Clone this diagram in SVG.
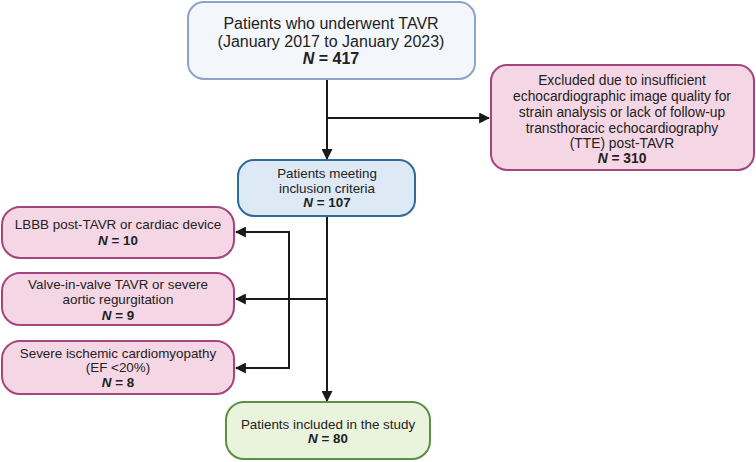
<svg xmlns="http://www.w3.org/2000/svg" width="756" height="462" viewBox="0 0 756 462">
<style>
text{font-family:"Liberation Sans",Arial,sans-serif;fill:#222;text-anchor:middle}
.t16{font-size:16px}
.t14{font-size:13.8px}
.t13{font-size:13.4px}
.b{font-weight:bold}
.i{font-style:italic}
.box{stroke-width:2}
.top{fill:#f3f6fb;stroke:#8ea3c8}
.mid{fill:#dde9f5;stroke:#2f6a9c}
.pink{fill:#f5d6e5;stroke:#a3467d}
.green{fill:#eaf3dc;stroke:#5c8f3f}
.ln{fill:none;stroke:#1a1a1a;stroke-width:2}
</style>
<defs>
<marker id="ah" viewBox="0 0 10 10" refX="9" refY="5" markerWidth="5.5" markerHeight="5.5" orient="auto" markerUnits="strokeWidth">
<path d="M0,0 L10,5 L0,10 z" fill="#1a1a1a"/>
</marker>
</defs>
<g id="connectors">
<path class="ln" d="M327,80 V159" marker-end="url(#ah)"/>
<path class="ln" d="M327,118 H489" marker-end="url(#ah)"/>
<path class="ln" d="M327,216 V401" marker-end="url(#ah)"/>
<path class="ln" d="M327,299 H236" marker-end="url(#ah)"/>
<path class="ln" d="M289,232 V368"/>
<path class="ln" d="M290,232 H236" marker-end="url(#ah)"/>
<path class="ln" d="M290,368 H236" marker-end="url(#ah)"/>
</g>
<g id="n-tavr">
<rect class="box top" x="188" y="2" width="287" height="77" rx="16"/>
<text class="t16" x="331" y="29">Patients who underwent TAVR</text>
<text class="t16" x="331" y="47">(January 2017 to January 2023)</text>
<text class="t16 b" x="331" y="64"><tspan class="i">N</tspan> = 417</text>
</g>
<g id="n-excluded">
<rect class="box pink" x="491" y="65" width="263" height="105" rx="16"/>
<text class="t14" x="622" y="85">Excluded due to insufficient</text>
<text class="t14" x="622" y="101">echocardiographic image quality for</text>
<text class="t14" x="622" y="117">strain analysis or lack of follow-up</text>
<text class="t14" x="622" y="133">transthoracic echocardiography</text>
<text class="t14" x="622" y="148">(TTE) post-TAVR</text>
<text class="t14 b" x="622" y="163"><tspan class="i">N</tspan> = 310</text>
</g>
<g id="n-inclusion">
<rect class="box mid" x="238" y="160" width="177" height="56" rx="16"/>
<text class="t13" x="327" y="178">Patients meeting</text>
<text class="t13" x="327" y="193">inclusion criteria</text>
<text class="t13 b" x="327" y="207"><tspan class="i">N</tspan> = 107</text>
</g>
<g id="n-lbbb">
<rect class="box pink" x="2" y="207" width="232" height="51" rx="18"/>
<text class="t13" x="118" y="229">LBBB post-TAVR or cardiac device</text>
<text class="t13 b" x="118" y="245"><tspan class="i">N</tspan> = 10</text>
</g>
<g id="n-viv">
<rect class="box pink" x="2" y="273" width="232" height="52" rx="18"/>
<text class="t13" x="118" y="289">Valve-in-valve TAVR or severe</text>
<text class="t13" x="118" y="304">aortic regurgitation</text>
<text class="t13 b" x="118" y="320"><tspan class="i">N</tspan> = 9</text>
</g>
<g id="n-ischemic">
<rect class="box pink" x="2" y="341" width="232" height="53" rx="18"/>
<text class="t13" x="118" y="358">Severe ischemic cardiomyopathy</text>
<text class="t13" x="118" y="372">(EF &lt;20%)</text>
<text class="t13 b" x="118" y="387"><tspan class="i">N</tspan> = 8</text>
</g>
<g id="n-included">
<rect class="box green" x="226" y="402" width="204" height="57" rx="18"/>
<text class="t13" x="328" y="429">Patients included in the study</text>
<text class="t13 b" x="328" y="443"><tspan class="i">N</tspan> = 80</text>
</g>
</svg>
